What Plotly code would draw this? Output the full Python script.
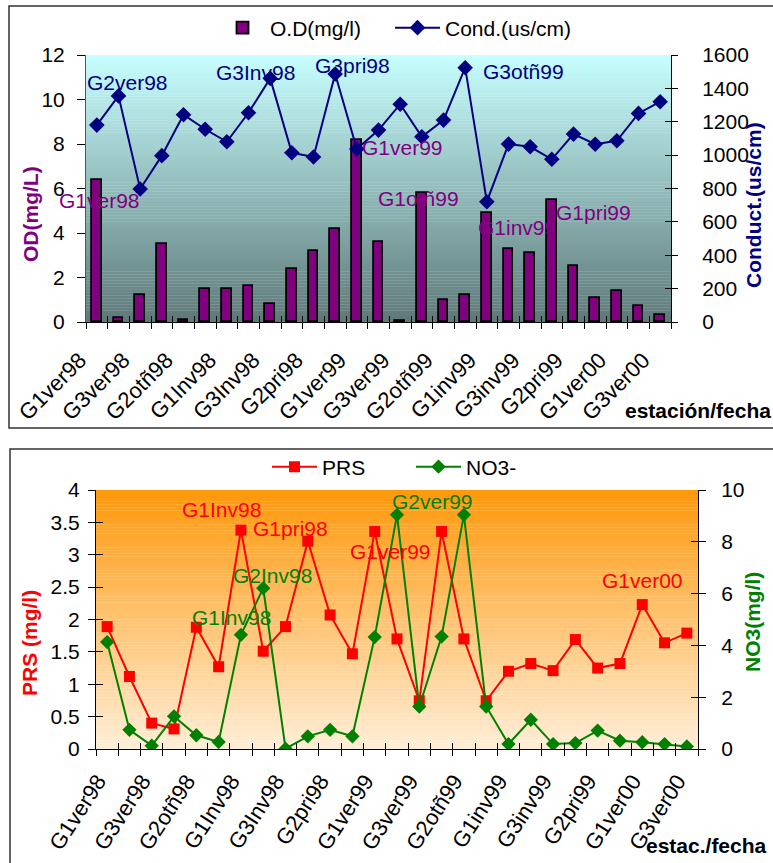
import plotly.graph_objects as go

W, H = 773, 863
FONT = "Liberation Sans, Arial, sans-serif"

# ---- data -------------------------------------------------------------
categories = [
    "G1ver98", "G2ver98", "G3ver98", "G1otñ98", "G2otñ98", "G3otñ98",
    "G1Inv98", "G2Inv98", "G3Inv98", "G1pri98", "G2pri98", "G3pri98",
    "G1ver99", "G2ver99", "G3ver99", "G1otñ99", "G2otñ99", "G3otñ99",
    "G1inv99", "G2inv99", "G3inv99", "G1pri99", "G2pri99", "G3pri99",
    "G1ver00", "G2ver00", "G3ver00",
]
od_mgl = [6.4, 0.2, 1.2, 3.5, 0.1, 1.5, 1.5, 1.6, 0.8, 2.4, 3.2, 4.2, 8.2, 3.6,
          0.05, 5.8, 1.0, 1.2, 4.9, 3.3, 3.1, 5.5, 2.5, 1.1, 1.4, 0.7, 0.3]
cond_uscm = [1180, 1355, 797, 997, 1242, 1155, 1080, 1254, 1460, 1014, 989,
             1486, 1037, 1150, 1305, 1110, 1210, 1524, 721, 1066, 1050, 975,
             1126, 1065, 1086, 1250, 1320]
prs_mgl = [1.89, 1.12, 0.40, 0.31, 1.88, 1.27, 3.38, 1.51, 1.89, 3.21, 2.07,
           1.47, 3.36, 1.70, 0.745, 3.36, 1.70, 0.745, 1.20, 1.32, 1.21, 1.69,
           1.25, 1.32, 2.23, 1.64, 1.79]
no3_mgl = [4.13, 0.74, 0.13, 1.26, 0.53, 0.27, 4.41, 6.21, 0.01, 0.49, 0.74,
           0.49, 4.32, 9.04, 1.64, 4.34, 9.04, 1.64, 0.19, 1.13, 0.19, 0.23,
           0.71, 0.32, 0.26, 0.19, 0.10]
tick_labels = categories[::2]

# labelled points: (category, text x-offset px, text y-offset px)
cond_labels = [("G2ver98", 9, 13), ("G3Inv98", -15, 6), ("G3pri98", 17, 9),
               ("G3otñ99", 58, -4)]
od_labels = [("G1ver98", 3, -21), ("G1ver99", 46, -8), ("G1otñ99", -3, -6),
             ("G1inv99", 30, -15), ("G1pri99", 42, -13)]
prs_labels = [("G1Inv98", -19, 21), ("G1pri98", -17, 13), ("G1ver99", 16, -20),
              ("G1ver00", 0, 24)]
no3_labels = [("G2ver99", 35, 13), ("G2Inv98", 9, 13), ("G1Inv98", -9, 17)]

PURPLE, NAVY, RED, GREEN = "#800080", "#000080", "#FF0000", "#008000"

n_cat = len(categories)
xs = list(range(n_cat))
bounds = [i - 0.5 for i in range(n_cat + 1)]
CAT_RANGE = [-0.5, n_cat - 0.5]


def px(p):
    return p / W


def py(p):
    return 1 - p / H


# plot-area rectangles in pixels: (left, right, top, bottom)
TOP = (86, 671, 55, 322)
BOT = (96, 698, 490, 749)
# rotated category labels: horizontal nudge (categories), angle, standoff
TOP_LABELS = dict(nudge=-0.78, angle=-45, standoff=20)
BOT_LABELS = dict(nudge=-0.42, angle=-57, standoff=14)
LABEL_EXTRA = 40  # px the label axis reaches left of the plot area

fig = go.Figure()

fig.add_trace(go.Bar(
    x=xs, y=od_mgl, name="O.D(mg/l)", width=0.46,
    marker=dict(color=PURPLE, line=dict(color="black", width=1.8)),
    xaxis="x", yaxis="y", legend="legend", showlegend=True,
))
fig.add_trace(go.Scatter(
    x=xs, y=cond_uscm, name="Cond.(us/cm)", mode="lines+markers",
    line=dict(color=NAVY, width=2),
    marker=dict(symbol="diamond", size=12, color=NAVY),
    xaxis="x", yaxis="y2", legend="legend3", showlegend=True,
))
fig.add_trace(go.Scatter(
    x=xs, y=prs_mgl, name="PRS", mode="lines+markers",
    line=dict(color=RED, width=2),
    marker=dict(symbol="square", size=11, color=RED),
    xaxis="x2", yaxis="y3", legend="legend2", showlegend=True,
))
fig.add_trace(go.Scatter(
    x=xs, y=no3_mgl, name="NO3-", mode="lines+markers",
    line=dict(color=GREEN, width=2),
    marker=dict(symbol="diamond", size=11, color=GREEN),
    xaxis="x2", yaxis="y4", legend="legend4", showlegend=True,
))
# empty traces that register the extra axes (inner ticks, category labels)
for xa, ya in [("x3", "y"), ("x5", "y"), ("x", "y5"), ("x4", "y3"),
               ("x6", "y3"), ("x2", "y6"), ("x2", "y7")]:
    fig.add_trace(go.Scatter(x=[], y=[], xaxis=xa, yaxis=ya, showlegend=False,
                             hoverinfo="skip"))

tickfont = dict(family=FONT, size=21, color="black")
base = dict(showgrid=False, zeroline=False, tickfont=tickfont, automargin=False)

# category axis: boundary ticks outside, axis line, no labels
x_outer = dict(range=CAT_RANGE, tickvals=bounds, ticks="outside", ticklen=6,
               tickcolor="black", showticklabels=False, showline=True,
               linecolor="black", linewidth=1, **base)
# same boundaries, inner half of the crossing tick marks
x_inner = dict(range=CAT_RANGE, tickvals=bounds, ticks="inside", ticklen=6,
               tickcolor="black", showticklabels=False, showline=False, **base)


def x_labels(area, anchor, nudge, angle, standoff):
    # a label-only axis reaching a little further left than the plot area,
    # scaled so that label i lands at category position i + nudge
    cw = (area[1] - area[0]) / n_cat
    lo = CAT_RANGE[0] - nudge - LABEL_EXTRA / cw
    hi = CAT_RANGE[1] - nudge
    return dict(domain=[px(area[0] - LABEL_EXTRA), px(area[1])], anchor=anchor,
                range=[lo, hi], tickvals=xs[::2], ticktext=tick_labels,
                tickangle=angle, ticks="", showline=False, showgrid=False,
                zeroline=False, automargin=False, ticklabelstandoff=standoff,
                tickfont=dict(family=FONT, size=22, color="black"))


def legend_at(x, y):
    return dict(orientation="h", x=px(x), y=py(y), xanchor="left",
                yanchor="middle", font=dict(family=FONT, size=21),
                itemwidth=45, bgcolor="rgba(0,0,0,0)", visible=True)


fig.update_layout(
    width=W, height=H, margin=dict(l=0, r=0, t=0, b=0, autoexpand=False),
    paper_bgcolor="white", plot_bgcolor="rgba(0,0,0,0)",
    font=dict(family=FONT, size=21, color="black"),
    showlegend=True,
    bargap=0,
    xaxis=dict(domain=[px(TOP[0]), px(TOP[1])], anchor="y", **x_outer),
    xaxis3=dict(overlaying="x", anchor="y", **x_inner),
    xaxis5=x_labels(TOP, "y", **TOP_LABELS),
    yaxis=dict(domain=[py(TOP[3]), py(TOP[2])], anchor="x", range=[0, 12],
               dtick=2, ticks="outside", ticklen=8, tickcolor="black",
               showline=True, linecolor="#555555", linewidth=1,
               ticklabelstandoff=8, **base),
    yaxis2=dict(overlaying="y", side="right", anchor="x", range=[0, 1600],
                dtick=200, ticks="outside", ticklen=6, tickcolor="black",
                showline=True, linecolor="black", linewidth=1,
                ticklabelstandoff=20, **base),
    yaxis5=dict(overlaying="y", side="right", anchor="x", range=[0, 1600],
                dtick=200, ticks="inside", ticklen=6, tickcolor="black",
                showticklabels=False, showline=False, **base),
    xaxis2=dict(domain=[px(BOT[0]), px(BOT[1])], anchor="y3", **x_outer),
    xaxis4=dict(overlaying="x2", anchor="y3", **x_inner),
    xaxis6=x_labels(BOT, "y3", **BOT_LABELS),
    yaxis3=dict(domain=[py(BOT[3]), py(BOT[2])], anchor="x2", range=[0, 4],
                dtick=0.5, ticks="outside", ticklen=7, tickcolor="black",
                showline=True, linecolor="black", linewidth=1,
                ticklabelstandoff=4, **base),
    yaxis6=dict(overlaying="y3", side="left", anchor="x2", range=[0, 4],
                dtick=0.5, ticks="inside", ticklen=7, tickcolor="black",
                showticklabels=False, showline=False, **base),
    yaxis4=dict(overlaying="y3", side="right", anchor="x2", range=[0, 10],
                dtick=2, ticks="outside", ticklen=7, tickcolor="black",
                showline=True, linecolor="black", linewidth=1,
                ticklabelstandoff=11, **base),
    yaxis7=dict(overlaying="y3", side="right", anchor="x2", range=[0, 10],
                dtick=2, ticks="inside", ticklen=7, tickcolor="black",
                showticklabels=False, showline=False, **base),
    legend=legend_at(215, 28),
    legend3=legend_at(390, 28),
    legend2=legend_at(267, 467),
    legend4=legend_at(411, 467),
)

# ---- vertical colour gradients behind each plot area --------------------
def gradient(xref, yref, c_top, c_bot, n=90):
    shapes = []
    for k in range(n):
        t = (k + 0.5) / n  # 0 at top, 1 at bottom
        c = tuple(round(a + (b - a) * t) for a, b in zip(c_top, c_bot))
        y1 = 1 - k / n
        y0 = max(0.0, 1 - (k + 1.1) / n)
        shapes.append(dict(type="rect", xref=xref, yref=yref, x0=0, x1=1,
                           y0=y0, y1=y1, layer="below", line=dict(width=0),
                           fillcolor="rgb(%d,%d,%d)" % c))
    return shapes


shapes = []
shapes += gradient("x domain", "y domain", (200, 255, 255), (94, 120, 120))
shapes += gradient("x2 domain", "y3 domain", (255, 152, 10), (255, 238, 216))
# chart frames
shapes.append(dict(type="rect", xref="paper", yref="paper", x0=px(9),
                   x1=px(W + 5), y0=py(428), y1=py(6),
                   line=dict(color="#333333", width=1.5)))
shapes.append(dict(type="rect", xref="paper", yref="paper", x0=px(10),
                   x1=px(W + 5), y0=py(H + 5), y1=py(449),
                   line=dict(color="#333333", width=1.5)))
fig.update_layout(shapes=shapes)

# ---- annotations --------------------------------------------------------
ann = []


def point_labels(spec, values, xref, yref, color):
    for name, dx, dy in spec:
        i = categories.index(name)
        ann.append(dict(x=i, y=values[i], xref=xref, yref=yref, text=name,
                        showarrow=False, xanchor="center", yanchor="middle",
                        xshift=dx, yshift=dy,
                        font=dict(family=FONT, size=21, color=color)))


point_labels(cond_labels, cond_uscm, "x", "y2", NAVY)
point_labels(od_labels, od_mgl, "x", "y", PURPLE)
point_labels(prs_labels, prs_mgl, "x2", "y3", RED)
point_labels(no3_labels, no3_mgl, "x2", "y4", GREEN)


def title(text, x, y, color, angle=-90, xanchor="center"):
    ann.append(dict(x=px(x), y=py(y), xref="paper", yref="paper",
                    text="<b>%s</b>" % text, showarrow=False, textangle=angle,
                    xanchor=xanchor, yanchor="middle",
                    font=dict(family=FONT, size=21, color=color)))


title("OD(mg/L)", 30, 214, PURPLE)
title("Conduct.(us/cm)", 753, 205, NAVY)
title("PRS (mg/l)", 29, 643, RED)
title("NO3(mg/l)", 752, 622, GREEN)
title("estación/fecha", 773, 410, "black", angle=0, xanchor="right")
title("estac./fecha", 769, 845, "black", angle=0, xanchor="right")

fig.update_layout(annotations=ann)

fig.write_html("out.html")
